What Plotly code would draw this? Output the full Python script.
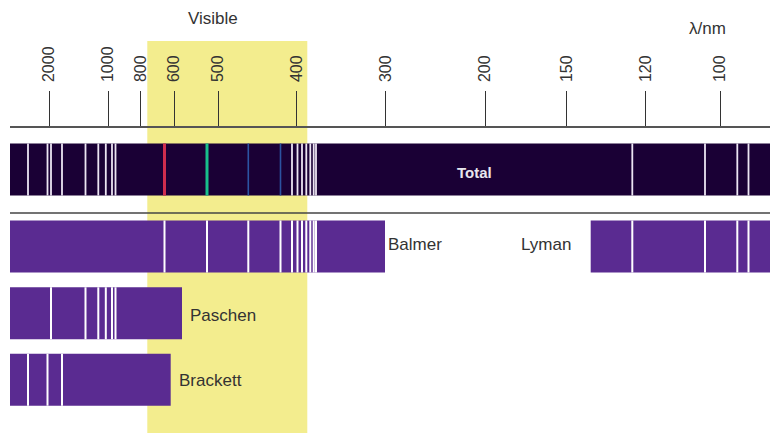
import plotly.graph_objects as go

# schematic wavelength axis: tick labels and where they sit along the axis
tick_labels = ["2000", "1000", "800", "600", "500", "400", "300", "200", "150", "120", "100"]
tick_pos = [49, 108.3, 140.7, 174, 218.3, 296.7, 385.5, 485, 566.7, 645.7, 720]

# emission lines of each series
brackett_lines = [28, 47.5, 62]
paschen_lines = [51, 85.5, 98.3, 105.8, 112, 115.5]
balmer_lines = [164.5, 207, 248.3, 280.5, 292, 297.5, 302, 306.3, 310.3, 313.7, 316]
lyman_lines = [632.3, 705, 737.3, 748.5]

# extent of each series band along the axis
series_names = ["Balmer", "Lyman", "Paschen", "Brackett"]
band_start = [10, 590.7, 10, 10]
band_end = [385, 778, 182, 170.7]
total_range = [10, 778]
visible_range = [147.3, 307.3]

# the four visible Balmer lines in the total spectrum
balmer_visible_colours = ["#cf2d4e", "#18bf8c", "#2c55a3", "#2c52a0"]
balmer_visible_widths = [3, 3, 1.6, 1.6]

# layout helpers (page px; the html body adds an 8px margin)
PAD = 8
W, H = 778, 433
ROW_Y = {"Total": 169.5, "Balmer": 246.5, "Lyman": 246.5, "Paschen": 313.3, "Brackett": 379.7}
ROW_H = 52
AXIS_Y = 127
DARK = "#1a0035"
PURPLE = "#5a2b91"
YELLOW = "#f3ed8e"
TEXT = "#333333"
FONT = "Liberation Sans, Arial, sans-serif"

series_lines = {
    "Balmer": balmer_lines,
    "Lyman": lyman_lines,
    "Paschen": paschen_lines,
    "Brackett": brackett_lines,
}


def segs(xs, row):
    x, y = [], []
    top = ROW_Y[row] - ROW_H / 2
    bot = ROW_Y[row] + ROW_H / 2
    for p in xs:
        x += [p, p, None]
        y += [top, bot, None]
    return x, y


fig = go.Figure()

# total spectrum bar
fig.add_trace(go.Bar(
    orientation="h", y=[ROW_Y["Total"]], base=[total_range[0]],
    x=[total_range[1] - total_range[0]], width=ROW_H,
    marker=dict(color=DARK, line=dict(width=0)), showlegend=False,
))

# series bars
for name, s, e in zip(series_names, band_start, band_end):
    fig.add_trace(go.Bar(
        orientation="h", y=[ROW_Y[name]], base=[s], x=[e - s], width=ROW_H,
        marker=dict(color=PURPLE, line=dict(width=0)), showlegend=False,
    ))

# white lines in each series bar
for name, xs in series_lines.items():
    lx, ly = segs(xs, name)
    fig.add_trace(go.Scatter(x=lx, y=ly, mode="lines",
                             line=dict(color="#ffffff", width=2), showlegend=False))

# total spectrum = all series lines together, visible Balmer lines coloured
all_lines = sorted(set(brackett_lines + paschen_lines + balmer_lines[4:] + lyman_lines))
lx, ly = segs(all_lines, "Total")
fig.add_trace(go.Scatter(x=lx, y=ly, mode="lines",
                         line=dict(color="#ece4f2", width=1.8), showlegend=False))
for p, c, w in zip(balmer_lines[:4], balmer_visible_colours, balmer_visible_widths):
    lx, ly = segs([p], "Total")
    fig.add_trace(go.Scatter(x=lx, y=ly, mode="lines",
                             line=dict(color=c, width=w), showlegend=False))

# visible window and separator
fig.add_shape(type="rect", xref="x", yref="y", x0=visible_range[0], x1=visible_range[1],
              y0=41, y1=H, fillcolor=YELLOW, line=dict(width=0), layer="below")
fig.add_shape(type="line", xref="x", yref="y", x0=total_range[0], x1=total_range[1],
              y0=213, y1=213, line=dict(color="#444444", width=1.5))

ann = dict(showarrow=False, font=dict(family=FONT, size=17, color=TEXT))
fig.add_annotation(x=213, y=18, text="Visible", **ann)
fig.add_annotation(x=707, y=28, text="λ/nm", **ann)
fig.add_annotation(x=474, y=ROW_Y["Total"] + 3, text="<b>Total</b>",
                   showarrow=False, font=dict(family=FONT, size=15, color="#e8e6ee"))
fig.add_annotation(x=band_end[0] + 1, y=ROW_Y["Balmer"] - 2, text="Balmer", xanchor="left", **ann)
fig.add_annotation(x=546, y=ROW_Y["Lyman"] - 2, text="Lyman", **ann)
fig.add_annotation(x=band_end[2] + 6, y=ROW_Y["Paschen"] + 2, text="Paschen", xanchor="left", **ann)
fig.add_annotation(x=band_end[3] + 6, y=ROW_Y["Brackett"] + 1, text="Brackett", xanchor="left", **ann)

fw, fh = W - PAD, H - PAD
fig.update_layout(
    width=fw, height=fh,
    margin=dict(l=0, r=0, t=0, b=0),
    paper_bgcolor="white", plot_bgcolor="rgba(0,0,0,0)",
    barmode="overlay",
    xaxis=dict(
        range=[total_range[0], W], domain=[(total_range[0] - PAD) / fw, 1],
        anchor="free", position=1 - (AXIS_Y - PAD) / fh,
        side="top", showgrid=False, zeroline=False,
        showline=True, linecolor="#555555", linewidth=1.5,
        ticks="outside", ticklen=35, tickwidth=1.3, tickcolor="#333333",
        tickmode="array", tickvals=tick_pos, ticktext=tick_labels,
        tickangle=-90, ticklabelstandoff=6,
        tickfont=dict(family=FONT, size=16, color=TEXT),
    ),
    yaxis=dict(range=[H, PAD], visible=False, showgrid=False, zeroline=False),
    font=dict(family=FONT),
)

fig.write_html("out.html")
